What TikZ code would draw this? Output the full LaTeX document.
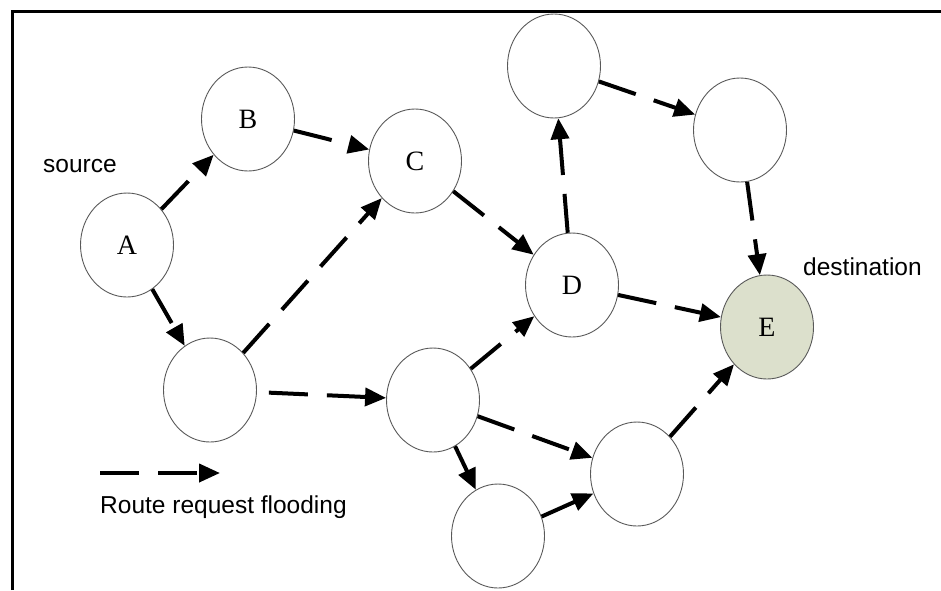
\documentclass[tikz,border=0pt]{standalone}
\usepackage{fontspec}
\setmainfont{Liberation Serif}
\newfontfamily\labelfont{Liberation Sans}
\usetikzlibrary{shapes.geometric,arrows.meta}
\definecolor{destfill}{HTML}{DCE0CC}
\tikzset{
	hop/.style={ellipse, draw=black!65, line width=0.9pt, minimum width=93pt, minimum height=104pt, inner sep=0pt, font=\fontsize{28}{32}\selectfont},
	flood/.style={line width=4pt, dash pattern=on 39pt off 19pt, -{Triangle[length=21pt,width=18pt]}},
	note/.style={anchor=base west, inner sep=0pt, font=\labelfont\fontsize{24.5}{30}\selectfont}
}
\begin{document}
\begin{tikzpicture}[x=1pt,y=-1pt]
			\useasboundingbox (0,0) rectangle (941,590);
			\draw[line width=3pt] (12.5,590) -- (12.5,11) -- (941,11);

			\node[hop] (a) at (127,245) {A};
			\node[hop] (b) at (248,119) {B};
			\node[hop] (c) at (415,161) {C};
			\node[hop] (d) at (572,285) {D};
			\node[hop, fill=destfill] (e) at (767,327) {E};
			\node[hop] (up) at (554,66) {};
			\node[hop] (upright) at (740,130) {};
			\node[hop] (low) at (210,390) {};
			\node[hop] (mid) at (433,400) {};
			\node[hop] (lowright) at (637,474) {};
			\node[hop] (bottom) at (498,536) {};

			\node[note] (src) at (43,172) {source};
			\node[note] (dst) at (803,275) {destination};
			\node[note] (legend) at (100,513) {Route request flooding};
			\coordinate (legstart) at (100,473);
			\coordinate (legend) at (220,473);

			\draw[flood] (a) -- (b);
			\draw[flood] (b) -- (c);
			\draw[flood] (a) -- (low);
			\draw[flood] (low) -- (c);
			\draw[flood, shorten <=12pt] (low) -- (mid);
			\draw[flood] (c) -- (d);
			\draw[flood] (d) -- (up);
			\draw[flood] (up) -- (upright);
			\draw[flood] (upright) -- (e);
			\draw[flood] (d) -- (e);
			\draw[flood] (mid) -- (d);
			\draw[flood] (mid) -- (lowright);
			\draw[flood] (mid) -- (bottom);
			\draw[flood] (bottom) -- (lowright);
			\draw[flood] (lowright) -- (e);
			\draw[flood] (legstart) -- (legend);
		\end{tikzpicture}
\end{document}
